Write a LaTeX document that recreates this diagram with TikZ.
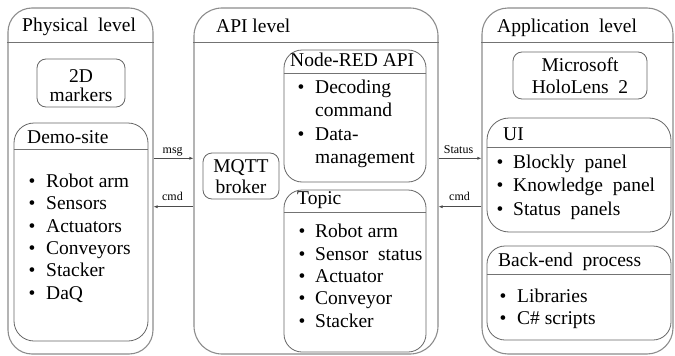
\documentclass[tikz,border=0pt]{standalone}
\usepackage{fontspec}
\setmainfont{Liberation Serif}
\newfontfamily\tnr{Liberation Serif}
\usetikzlibrary{arrows.meta,fit}
\tikzset{
  lvl/.style={draw=black!45, line width=1.1pt, inner sep=0pt, rounded corners=#1},
  sub/.style={draw=black!60, line width=0.8pt, inner sep=0pt, rounded corners=#1},
  hdr/.style={draw=black!55, line width=0.8pt},
  txt/.style={anchor=base west, inner sep=0pt, font=\tnr\fontsize{19.5}{22}\selectfont},
  ctxt/.style={anchor=base, inner sep=0pt, font=\tnr\fontsize{19.5}{22}\selectfont},
  bul/.style={anchor=base, inner sep=0pt, font=\tnr\fontsize{19.5}{22}\selectfont},
  lbl/.style={anchor=base, inner sep=0pt, font=\tnr\fontsize{12}{14}\selectfont},
  arr/.style={draw=black!70, line width=0.6pt, -{Latex[length=4pt,width=3pt]}}
}
\begin{document}
\begin{tikzpicture}[x=1pt,y=-1pt]
\useasboundingbox (0,0) rectangle (675,356);
% outer level boxes
\node[lvl=24pt, fit={(8,8) (153,354)}] (phys) {};
\node[lvl=28pt, fit={(194,8) (438,354)}] (api) {};
\node[lvl=26pt, fit={(482,8) (673,354)}] (app) {};
\draw[hdr] (phys.west |- 0,42) -- (phys.east |- 0,42);
\draw[hdr] (api.west |- 0,42) -- (api.east |- 0,42);
\draw[hdr] (app.west |- 0,42) -- (app.east |- 0,42);
\node[txt] (physT) at (22,31.5) {Physical\ \ level};
\node[txt] (apiT) at (216,32) {API level};
\node[txt] (appT) at (497,32) {Application\ \ level};
% physical level
\node[sub=9pt, fit={(37,59) (125,107)}] (mark) {};
\node[ctxt] (markA) at (81,82.7) {2D};
\node[ctxt] (markB) at (81,101.7) {markers};
\node[sub=20pt, fit={(14,123) (148,341)}] (demo) {};
\draw[hdr] (demo.west |- 0,149) -- (demo.east |- 0,149);
\node[txt] (demoT) at (27,143) {Demo-site};
\foreach \t [count=\i] in {Robot arm,Sensors,Actuators,Conveyors,Stacker,DaQ}{
  \node[bul] (demob\i) at (32,{187.3+22.4*(\i-1)}) {\textbullet};
  \node[txt] (demot\i) at (46,{187.3+22.4*(\i-1)}) {\t};
}
% API level
\node[sub=9pt, fit={(203,153) (279,199)}] (mqtt) {};
\node[ctxt] (mqttA) at (241,172.7) {MQTT};
\node[ctxt] (mqttB) at (241,193.3) {broker};
\node[sub=18pt, fit={(284,50) (426,182)}] (red) {};
\draw[hdr] (red.west |- 0,73) -- (red.east |- 0,73);
\node[txt] (redT) at (290,66.7) {Node-RED API};
\node[bul] (redb1) at (301,93) {\textbullet};
\node[txt] (redt1) at (315,93) {Decoding};
\node[txt] (redt2) at (315,116.5) {command};
\node[bul] (redb3) at (301,140) {\textbullet};
\node[txt] (redt3) at (315,140) {Data-};
\node[txt] (redt4) at (315,163.5) {management};
\node[sub=18pt, fit={(284,190) (426,352)}] (topic) {};
\draw[hdr] (topic.west |- 0,212) -- (topic.east |- 0,212);
\node[txt] (topicT) at (297,204) {Topic};
\foreach \t [count=\i] in {Robot arm,Sensor\ \ status,Actuator,Conveyor,Stacker}{
  \node[bul] (topb\i) at (302,{237.7+22.4*(\i-1)}) {\textbullet};
  \node[txt] (topt\i) at (315,{237.7+22.4*(\i-1)}) {\t};
}
% application level
\node[sub=9pt, fit={(513,52) (647,99)}] (holo) {};
\node[ctxt] (holoA) at (580,71) {Microsoft};
\node[ctxt] (holoB) at (580,93) {HoloLens\ \ 2};
\node[sub=22pt, fit={(487,118) (671,232)}] (ui) {};
\draw[hdr] (ui.west |- 0,147) -- (ui.east |- 0,147);
\node[txt] (uiT) at (503,140.7) {UI};
\foreach \t [count=\i] in {Blockly\ \ panel,Knowledge\ \ panel,Status\ \ panels}{
  \node[bul] (uib\i) at (500,{168+23.8*(\i-1)}) {\textbullet};
  \node[txt] (uit\i) at (513,{168+23.8*(\i-1)}) {\t};
}
\node[sub=18pt, fit={(487,246) (671,340)}] (back) {};
\draw[hdr] (back.west |- 0,274) -- (back.east |- 0,274);
\node[txt] (backT) at (498,266.5) {Back-end\ \ process};
\node[bul] (backb1) at (503,302) {\textbullet};
\node[txt] (backt1) at (517,302) {Libraries};
\node[bul] (backb2) at (503,324) {\textbullet};
\node[txt] (backt2) at (517,324) {C\#\ scripts};
% connectors
\coordinate (ya) at (0,158.3);
\coordinate (yb) at (0,206.7);
\draw[arr] (phys.east |- ya) -- (api.west |- ya);
\draw[arr] (api.west |- yb) -- (phys.east |- yb);
\draw[arr] (api.east |- ya) -- (app.west |- ya);
\draw[arr] (app.west |- yb) -- (api.east |- yb);
\node[lbl] (lmsg) at (172.7,153.5) {msg};
\node[lbl] (lcmd1) at (172.5,200.5) {cmd};
\node[lbl] (lstat) at (458.5,153.3) {Status};
\node[lbl] (lcmd2) at (459.5,200.5) {cmd};
\end{tikzpicture}
\end{document}
